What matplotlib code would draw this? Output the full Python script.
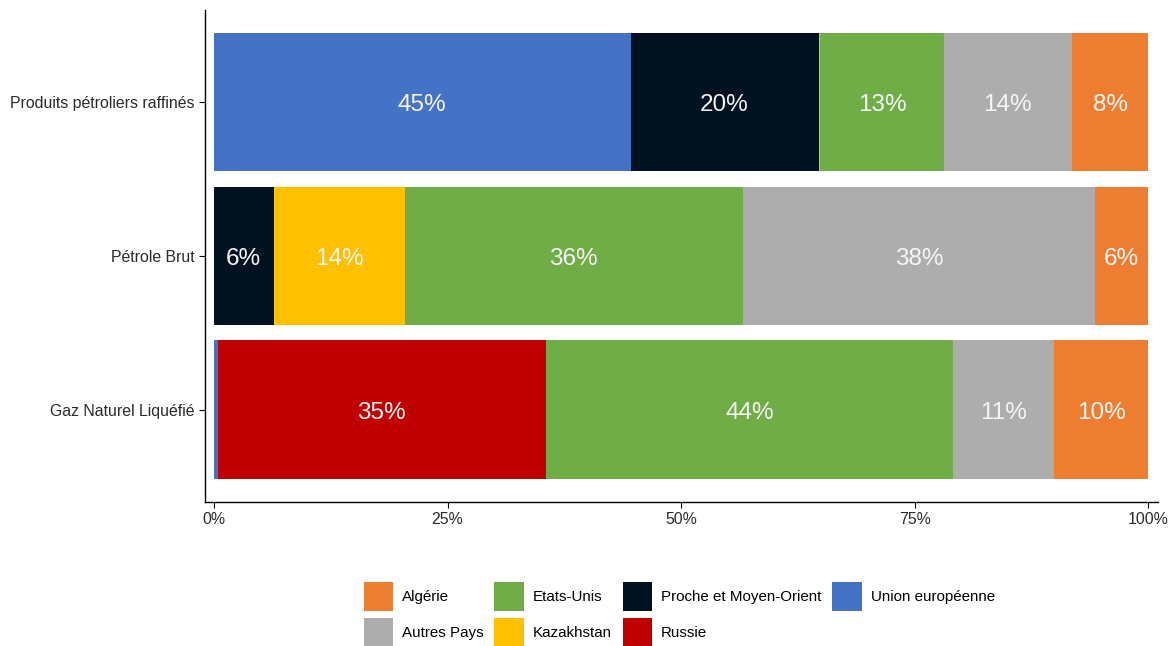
import matplotlib.pyplot as plt
from matplotlib.patches import Patch

plt.rcParams['font.family'] = ['Liberation Sans', 'DejaVu Sans']

# Categories, bottom to top
categories = ['Gaz Naturel Liquéfié', 'Pétrole Brut', 'Produits pétroliers raffinés']

# Stack order, left to right
series = ['Union européenne', 'Proche et Moyen-Orient', 'Kazakhstan', 'Russie',
          'Etats-Unis', 'Autres Pays', 'Algérie']

# Shares in %, one list per category (same order as series)
gaz = [0.4, 0.0, 0.0, 35.1, 43.6, 10.8, 10.1]
petrole = [0.0, 6.4, 14.0, 0.0, 36.2, 37.7, 5.7]
produits = [44.6, 20.1, 0.2, 0.0, 13.2, 13.7, 8.2]

colors = {
    'Union européenne': '#4472C4',
    'Proche et Moyen-Orient': '#00111F',
    'Kazakhstan': '#FFC000',
    'Russie': '#C00000',
    'Etats-Unis': '#70AD47',
    'Autres Pays': '#ADADAD',
    'Algérie': '#ED7D31',
}

# Legend order
legend_order = ['Algérie', 'Autres Pays', 'Etats-Unis', 'Kazakhstan',
                'Proche et Moyen-Orient', 'Russie', 'Union européenne']

data = [gaz, petrole, produits]

fig = plt.figure(figsize=(11.71, 6.46), dpi=100)
ax = fig.add_axes([0.175, 0.223, 0.814, 0.762])

for yi, row in enumerate(data):
    left = 0.0
    for name, v in zip(series, row):
        if v > 0:
            ax.barh(yi, v, left=left, height=0.9, color=colors[name], linewidth=0)
            if v >= 3:
                ax.text(left + v / 2, yi - 0.02, f'{v:.0f}%', ha='center', va='center',
                        color='#F5F5F5', fontsize=17.5)
        left += v

ax.set_xlim(-0.96, 101.04)
ax.set_ylim(-0.6, 2.6)
ax.set_yticks(range(len(categories)))
ax.set_yticklabels(categories)
ax.set_xticks([0, 25, 50, 75, 100])
ax.set_xticklabels(['0%', '25%', '50%', '75%', '100%'])
ax.tick_params(labelsize=11.4, colors='#2B2B2B', length=4)
ax.tick_params(axis='both', color='black')
for s in ['top', 'right']:
    ax.spines[s].set_visible(False)
for s in ['left', 'bottom']:
    ax.spines[s].set_linewidth(1.0)

handles = [Patch(facecolor=colors[n], edgecolor='none', label=n) for n in legend_order]
fig.legend(handles=handles, ncol=4, loc='center', bbox_to_anchor=(0.58, 0.049),
           frameon=False, fontsize=10.9, handlelength=1.95, handleheight=2.5,
           handletextpad=0.6, columnspacing=0.7, labelspacing=0.5)

fig.savefig('out.png', dpi=100)
